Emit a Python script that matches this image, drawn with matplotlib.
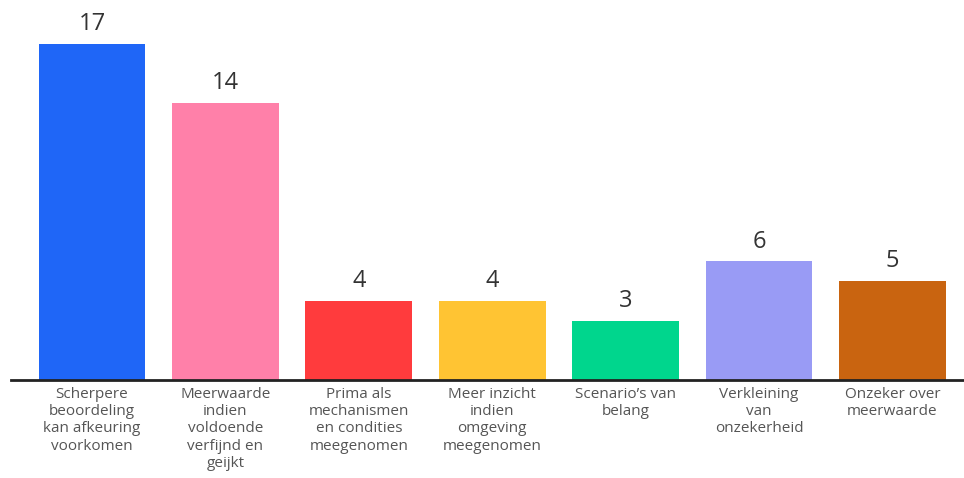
import matplotlib
matplotlib.use("Agg")
import matplotlib.pyplot as plt

categories = [
    "Scherpere\nbeoordeling\nkan afkeuring\nvoorkomen",
    "Meerwaarde\nindien\nvoldoende\nverfijnd en\ngeijkt",
    "Prima als\nmechanismen\nen condities\nmeegenomen",
    "Meer inzicht\nindien\nomgeving\nmeegenomen",
    "Scenario\u2019s van\nbelang",
    "Verkleining\nvan\nonzekerheid",
    "Onzeker over\nmeerwaarde",
]
values = [17, 14, 4, 4, 3, 6, 5]
colors = ["#1F66F7", "#FF80A9", "#FF3B3D", "#FFC433", "#00D68D", "#999BF5", "#C96410"]

plt.rcParams['font.family'] = ['Open Sans', 'DejaVu Sans']

fig = plt.figure(figsize=(9.64, 4.78), dpi=100)
ax = fig.add_axes([11/964, 98/478, 1 - 11/964, 380/478])

x = list(range(len(values)))
bars = ax.bar(x, values, width=0.8, color=colors)
for xi, v in zip(x, values):
    ax.text(xi, v + 0.4, str(v), ha="center", va="bottom", fontsize=17, color="#333333")

ax.set_xlim(-0.607, 6.536)
ax.set_ylim(0, 380 / 19.76)
ax.set_xticks(x)
ax.set_xticklabels(categories, fontsize=11, color="#555555", linespacing=1.2)
ax.tick_params(axis="x", length=0, pad=5)
ax.set_yticks([])
for s in ["top", "right", "left"]:
    ax.spines[s].set_visible(False)
ax.spines["bottom"].set_color("#222222")
ax.spines["bottom"].set_linewidth(2)

fig.savefig("out.png", dpi=100)
